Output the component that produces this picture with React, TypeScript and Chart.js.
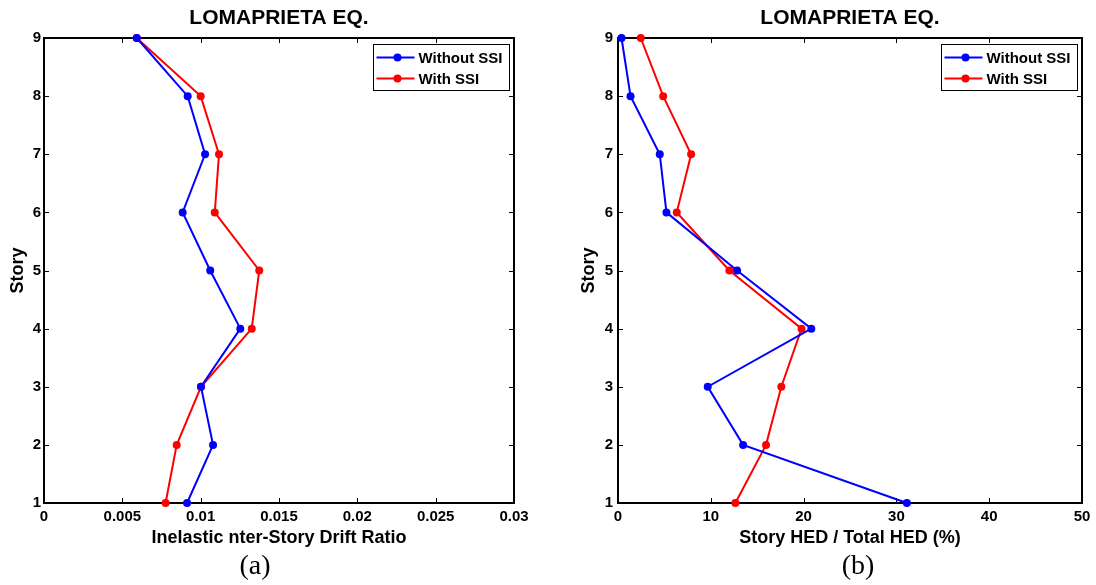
import React, { useEffect, useRef } from 'react';
import { Chart, registerables } from 'chart.js';

Chart.register(...registerables);

const FONT = '"Liberation Sans", Arial, Helvetica, sans-serif';

const chartTitle = 'LOMAPRIETA EQ.';
const seriesLabels = ['Without SSI', 'With SSI'];
const seriesColors = ['#0000ff', '#ff0000'];

const stories = [1, 2, 3, 4, 5, 6, 7, 8, 9];
const storyTicks = [1, 2, 3, 4, 5, 6, 7, 8, 9];
const storyTickLabels = ['1', '2', '3', '4', '5', '6', '7', '8', '9'];

// Panel (a): inelastic inter-story drift ratio
const driftWithoutSSI = [0.00913, 0.01079, 0.01002, 0.01253, 0.01061, 0.00885, 0.01028, 0.00917, 0.00592];
const driftWithSSI = [0.00776, 0.00847, 0.01002, 0.01326, 0.01374, 0.0109, 0.01117, 0.01, 0.00592];
const driftTicks = [0, 0.005, 0.01, 0.015, 0.02, 0.025, 0.03];
const driftTickLabels = ['0', '0.005', '0.01', '0.015', '0.02', '0.025', '0.03'];

// Panel (b): story HED / total HED (%)
const hedWithoutSSI = [31.13, 13.48, 9.67, 20.83, 12.83, 5.22, 4.5, 1.35, 0.38];
const hedWithSSI = [12.65, 15.95, 17.6, 19.78, 12.0, 6.33, 7.88, 4.87, 2.45];
const hedTicks = [0, 10, 20, 30, 40, 50];
const hedTickLabels = ['0', '10', '20', '30', '40', '50'];

const frameLegendPlugin = {
  id: 'frameLegend',
  beforeDatasetsDraw(chart: any) {
    const { ctx, chartArea } = chart;
    const { left, right, top, bottom } = chartArea;
    const xs = chart.scales.x;
    const ys = chart.scales.y;
    ctx.save();
    ctx.strokeStyle = '#000';
    ctx.lineWidth = 1;
    const tl = 5;
    xs.ticks.forEach((t: any) => {
      const px = Math.round(xs.getPixelForValue(t.value)) + 0.5;
      ctx.beginPath();
      ctx.moveTo(px, bottom);
      ctx.lineTo(px, bottom - tl);
      ctx.moveTo(px, top);
      ctx.lineTo(px, top + tl);
      ctx.stroke();
    });
    ys.ticks.forEach((t: any) => {
      const py = Math.round(ys.getPixelForValue(t.value)) + 0.5;
      ctx.beginPath();
      ctx.moveTo(left, py);
      ctx.lineTo(left + tl, py);
      ctx.moveTo(right, py);
      ctx.lineTo(right - tl, py);
      ctx.stroke();
    });
    ctx.lineWidth = 2;
    ctx.strokeRect(left, top, right - left, bottom - top);
    ctx.restore();
  },
  afterDatasetsDraw(chart: any) {
    const { ctx, chartArea } = chart;
    const datasets = chart.data.datasets;
    ctx.save();
    ctx.font = 'bold 15px ' + FONT;
    const tw = Math.max(...datasets.map((d: any) => ctx.measureText(d.label).width));
    const w = 45 + tw + 7;
    const h = 46;
    const x0 = Math.round(chartArea.right - 5 - w) + 0.5;
    const y0 = Math.round(chartArea.top + 6) + 0.5;
    ctx.fillStyle = '#fff';
    ctx.fillRect(x0, y0, w, h);
    ctx.strokeStyle = '#000';
    ctx.lineWidth = 1;
    ctx.strokeRect(x0, y0, w, h);
    datasets.forEach((d: any, i: number) => {
      const cy = y0 + 13 + i * 21;
      ctx.strokeStyle = d.borderColor;
      ctx.lineWidth = 2;
      ctx.beginPath();
      ctx.moveTo(x0 + 3, cy);
      ctx.lineTo(x0 + 41, cy);
      ctx.stroke();
      ctx.fillStyle = d.backgroundColor;
      ctx.beginPath();
      ctx.arc(x0 + 24, cy, 4, 0, Math.PI * 2);
      ctx.fill();
      ctx.fillStyle = '#000';
      ctx.textBaseline = 'middle';
      ctx.textAlign = 'left';
      ctx.fillText(d.label, x0 + 45, cy + 1);
    });
    ctx.restore();
  },
};

interface PanelProps {
  without: number[];
  withSSI: number[];
  xTicks: number[];
  xTickLabels: string[];
  xTitle: string;
  yAxisWidth: number;
  yTitlePad: number;
  yTickPad: number;
  rightPad: number;
}

function Panel(props: PanelProps) {
  const ref = useRef<HTMLCanvasElement | null>(null);
  useEffect(() => {
    if (!ref.current) return;
    const series = [props.without, props.withSSI];
    const chart = new Chart(ref.current, {
      type: 'scatter',
      data: {
        datasets: series.map((vals, k) => ({
          label: seriesLabels[k],
          data: stories.map((s, i) => ({ x: vals[i], y: s })),
          showLine: true,
          borderColor: seriesColors[k],
          backgroundColor: seriesColors[k],
          borderWidth: 2,
          pointRadius: 4,
          pointBorderWidth: 0,
          pointHoverRadius: 4,
          clip: false as any,
        })),
      },
      options: {
        animation: false,
        responsive: false,
        devicePixelRatio: 1,
        layout: { padding: { left: 0, right: props.rightPad, top: 0, bottom: 32 } },
        plugins: {
          legend: { display: false },
          tooltip: { enabled: false },
          title: {
            display: true,
            text: chartTitle,
            fullSize: false,
            color: '#000',
            font: { family: FONT, size: 21, weight: 'bold' },
            padding: { top: 6, bottom: 6.8 },
          },
        },
        scales: {
          x: {
            type: 'linear',
            min: props.xTicks[0],
            max: props.xTicks[props.xTicks.length - 1],
            afterBuildTicks: (s: any) => {
              s.ticks = props.xTicks.map((v) => ({ value: v }));
            },
            afterFit: (s: any) => {
              s.height = 50;
            },
            grid: { display: false, drawTicks: false },
            border: { display: false },
            ticks: {
              color: '#000',
              padding: 5,
              maxRotation: 0,
              autoSkip: false,
              font: { family: FONT, size: 15, weight: 'bold' },
              callback: (_v: any, i: number) => props.xTickLabels[i],
            },
            title: {
              display: true,
              text: props.xTitle,
              color: '#000',
              font: { family: FONT, size: 18, weight: 'bold' },
              padding: { top: 0, bottom: 4 },
            },
          },
          y: {
            type: 'linear',
            min: storyTicks[0],
            max: storyTicks[storyTicks.length - 1],
            afterBuildTicks: (s: any) => {
              s.ticks = storyTicks.map((v) => ({ value: v }));
            },
            afterFit: (s: any) => {
              s.width = props.yAxisWidth;
            },
            grid: { display: false, drawTicks: false },
            border: { display: false },
            ticks: {
              color: '#000',
              padding: props.yTickPad,
              autoSkip: false,
              font: { family: FONT, size: 15, weight: 'bold' },
              callback: (_v: any, i: number) => storyTickLabels[i],
            },
            title: {
              display: true,
              text: 'Story',
              color: '#000',
              font: { family: FONT, size: 18, weight: 'bold' },
              padding: { top: props.yTitlePad, bottom: 0 },
            },
          },
        },
      } as any,
      plugins: [frameLegendPlugin],
    });
    return () => chart.destroy();
  }, []);
  return <canvas ref={ref} width={548} height={585} style={{ width: 548, height: 585, display: 'block' }} />;
}

const captionStyle: React.CSSProperties = {
  position: 'absolute',
  top: 549,
  width: 100,
  textAlign: 'center',
  fontFamily: '"Liberation Serif", "Times New Roman", serif',
  fontSize: 28,
  lineHeight: '32px',
  color: '#000',
};

export default function App() {
  return (
    <div style={{ position: 'fixed', left: 0, top: 0, width: 1096, height: 585, background: '#fff', overflow: 'hidden' }}>
      <div style={{ position: 'absolute', left: 0, top: 0 }}>
        <Panel
          without={driftWithoutSSI}
          withSSI={driftWithSSI}
          xTicks={driftTicks}
          xTickLabels={driftTickLabels}
          xTitle="Inelastic nter-Story Drift Ratio"
          yAxisWidth={44}
          yTitlePad={7}
          yTickPad={3}
          rightPad={34}
        />
      </div>
      <div style={{ position: 'absolute', left: 548, top: 0 }}>
        <Panel
          without={hedWithoutSSI}
          withSSI={hedWithSSI}
          xTicks={hedTicks}
          xTickLabels={hedTickLabels}
          xTitle="Story HED / Total HED (%)"
          yAxisWidth={70}
          yTitlePad={30.7}
          yTickPad={5}
          rightPad={14}
        />
      </div>
      <div style={{ ...captionStyle, left: 205 }}>(a)</div>
      <div style={{ ...captionStyle, left: 808 }}>(b)</div>
    </div>
  );
}
